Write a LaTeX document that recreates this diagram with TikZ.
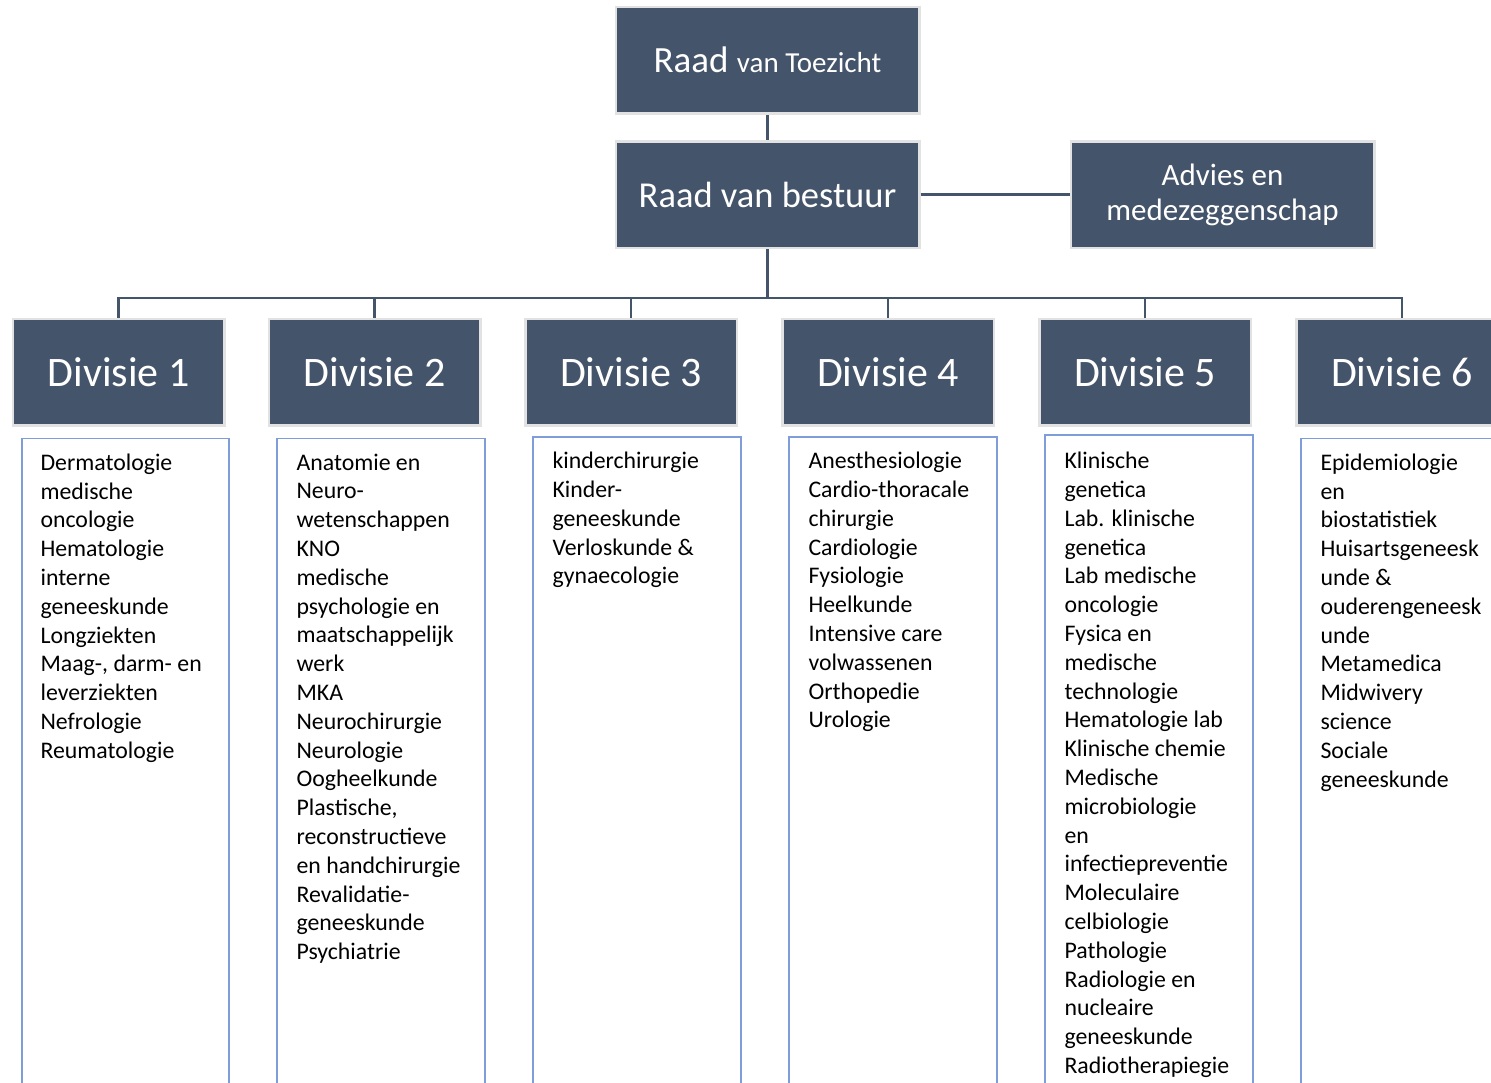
\documentclass[tikz,border=0pt]{standalone}
\usepackage{fontspec}
\setmainfont{Carlito}
\usetikzlibrary{positioning}
\definecolor{boxfill}{HTML}{44546A}
\definecolor{boxrim}{HTML}{E2E2E2}
\definecolor{listrim}{HTML}{7F9DD9}

\begin{document}
\begin{tikzpicture}[x=1pt, y=-1pt,
  headbox/.style={rectangle, draw=boxrim, line width=2.5pt, fill=boxfill, text=white, minimum width=303.5pt, minimum height=106.5pt, inner sep=0pt, align=center},
  divbox/.style={headbox, minimum width=211.5pt, font=\fontsize{42}{50}\selectfont},
  listbox/.style={rectangle, draw=listrim, line width=1.8pt, minimum width=207.5pt, minimum height=700pt, anchor=north, inner sep=0pt},
  listtext/.style={anchor=north west, align=left, inner sep=0pt, font=\fontsize{23.8}{28.8}\selectfont, execute at begin node=\strut},
  link/.style={draw=boxfill, line width=2.5pt}
]
\useasboundingbox (0,0) rectangle (1491,1082);
\clip (0,0) rectangle (1491,1082);

% top
\node[headbox] (rvt) at (767.5,60) {\fontsize{37}{44}\selectfont Raad \fontsize{29}{35}\selectfont van Toezicht};
\node[headbox, font=\fontsize{36.5}{44}\selectfont] (rvb) at (767.5,194.5) {Raad van bestuur};
\node[headbox, font=\fontsize{31}{35}\selectfont] (advies) at (1222.5,194.5) {Advies en\\medezeggenschap};

% divisies
\node[divbox] (d1) at (118.5,372) {Divisie 1};
\node[divbox] (d2) at (374.5,372) {Divisie 2};
\node[divbox] (d3) at (631,372) {Divisie 3};
\node[divbox] (d4) at (888,372) {Divisie 4};
\node[divbox] (d5) at (1145,372) {Divisie 5};
\node[divbox] (d6) at (1402,372) {Divisie 6};

% afdelingen
\node[listbox] (l1) at (125.5,437.5) {};
\node[listbox] (l2) at (381,437.5) {};
\node[listbox] (l3) at (637,436) {};
\node[listbox] (l4) at (893,436) {};
\node[listbox] (l5) at (1149,434) {};
\node[listbox] (l6) at (1405,437.5) {};

\node[listtext] (t1) at ([xshift=19.5pt, yshift=-16pt]l1.north west) {Dermatologie\\medische\\oncologie\\Hematologie\\interne\\geneeskunde\\Longziekten\\Maag-, darm- en\\leverziekten\\Nefrologie\\Reumatologie};
\node[listtext] (t2) at ([xshift=20pt, yshift=-16pt]l2.north west) {Anatomie en\\Neuro-\\wetenschappen\\KNO\\medische\\psychologie en\\maatschappelijk\\werk\\MKA\\Neurochirurgie\\Neurologie\\Oogheelkunde\\Plastische,\\reconstructieve\\en handchirurgie\\Revalidatie-\\geneeskunde\\Psychiatrie};
\node[listtext] (t3) at ([xshift=20pt, yshift=-16pt]l3.north west) {kinderchirurgie\\Kinder-\\geneeskunde\\Verloskunde \&\\gynaecologie};
\node[listtext] (t4) at ([xshift=20pt, yshift=-16pt]l4.north west) {Anesthesiologie\\Cardio-thoracale\\chirurgie\\Cardiologie\\Fysiologie\\Heelkunde\\Intensive care\\volwassenen\\Orthopedie\\Urologie};
\node[listtext] (t5) at ([xshift=20pt, yshift=-18pt]l5.north west) {Klinische\\genetica\\Lab. klinische\\genetica\\Lab medische\\oncologie\\Fysica en\\medische\\technologie\\Hematologie lab\\Klinische chemie\\Medische\\microbiologie\\en\\infectiepreventie\\Moleculaire\\celbiologie\\Pathologie\\Radiologie en\\nucleaire\\geneeskunde\\Radiotherapiegie};
\node[listtext] (t6) at ([xshift=20pt, yshift=-16pt]l6.north west) {Epidemiologie\\en\\biostatistiek\\Huisartsgeneesk\\unde \&\\ouderengeneesk\\unde\\Metamedica\\Midwivery\\science\\Sociale\\geneeskunde};

% lijnen
\coordinate (bus) at (767.5,298);
\draw[link] (rvt) -- (rvb);
\draw[link] (rvb) -- (advies);
\draw[link] (rvb.south) -- (bus);
\draw[link] (bus) -| (d1.north);
\draw[link] (bus) -| (d2.north);
\draw[link] (bus) -| (d3.north);
\draw[link] (bus) -| (d4.north);
\draw[link] (bus) -| (d5.north);
\draw[link] (bus) -| (d6.north);

\end{tikzpicture}
\end{document}
